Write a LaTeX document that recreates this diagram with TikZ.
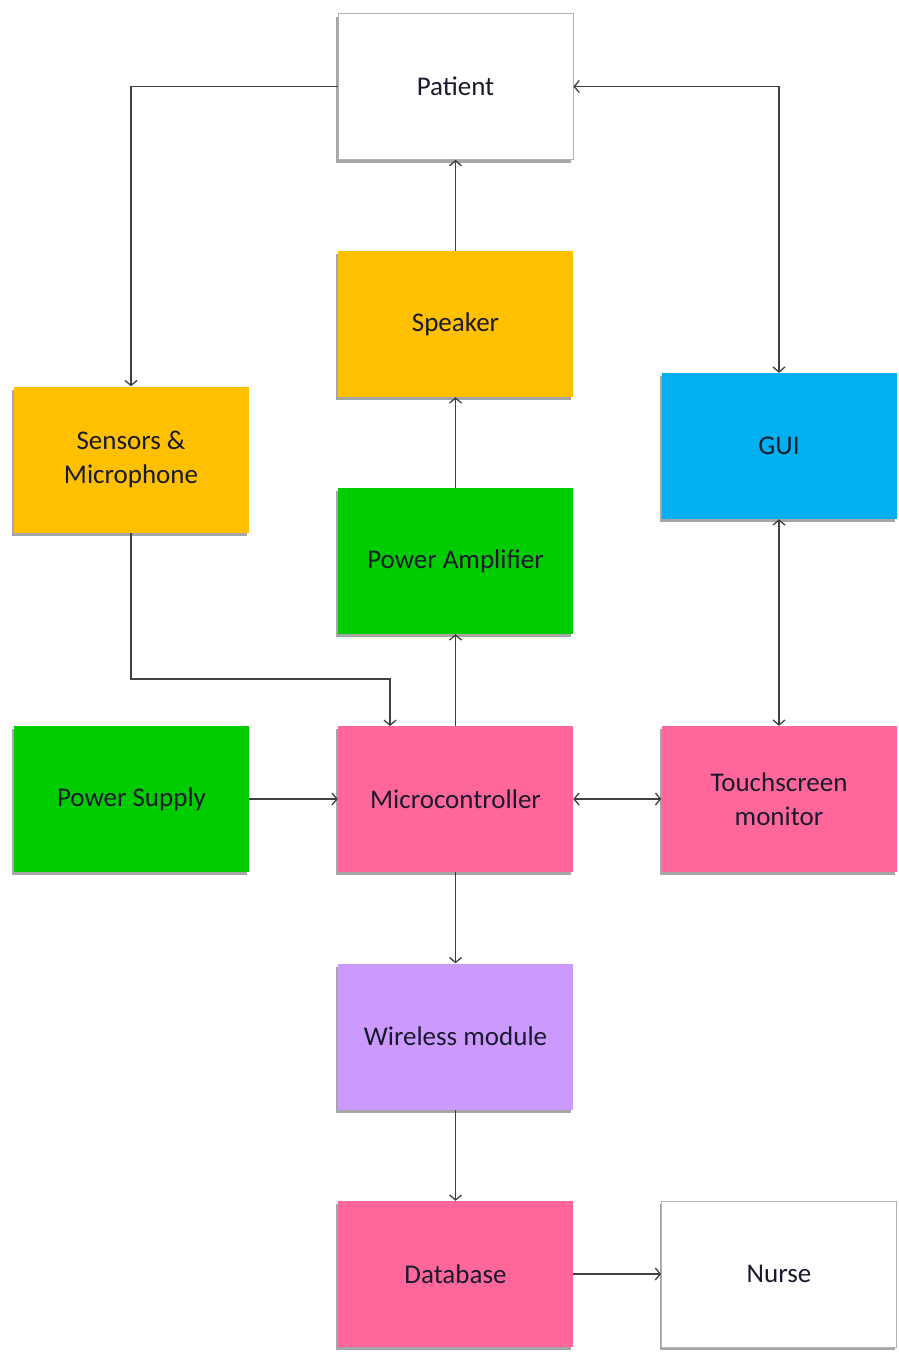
\documentclass[tikz,border=0pt]{standalone}
\usepackage{fontspec}
\setmainfont{Carlito}
\usetikzlibrary{arrows.meta,shadows,positioning}
\definecolor{cyel}{HTML}{FFC000}
\definecolor{cgrn}{HTML}{00CC00}
\definecolor{cpink}{HTML}{FF6699}
\definecolor{cblue}{HTML}{00B0F0}
\definecolor{cpurp}{HTML}{CC99FF}
\definecolor{ctext}{HTML}{1A1A2E}
\definecolor{cline}{HTML}{404040}
\tikzset{
  box/.style={rectangle, minimum width=235pt, minimum height=146pt, inner sep=2pt,
    align=center, font=\fontsize{27}{34}\selectfont, text=ctext,
    drop shadow={shadow xshift=-2pt, shadow yshift=-3pt, opacity=0.35, fill=black}},
  whitebox/.style={box, fill=white, draw=gray!60, line width=0.8pt},
  conn/.style={draw=cline, line width=1.3pt, -{Straight Barb[length=5pt,width=12pt]}},
  biconn/.style={draw=cline, line width=1.3pt, {Straight Barb[length=5pt,width=12pt]}-{Straight Barb[length=5pt,width=12pt]}}
}
\begin{document}
\begin{tikzpicture}[x=1pt,y=-1pt]
\useasboundingbox (0,0) rectangle (899,1353);
\fill[white] (0,0) rectangle (899,1353);
\node[whitebox] (patient) at (455.5,86.5) {Patient};
\node[box, fill=cyel] (speaker) at (455.5,324) {Speaker};
\node[box, fill=cgrn] (amp) at (455.5,561) {Power Amplifier};
\node[box, fill=cpink] (mcu) at (455.5,799) {Microcontroller};
\node[box, fill=cpurp] (wifi) at (455.5,1036.5) {Wireless module};
\node[box, fill=cpink] (db) at (455.5,1274) {Database};
\node[box, fill=cyel] (sens) at (131,459.5) {Sensors \&\\Microphone};
\node[box, fill=cgrn] (psu) at (131.5,799) {Power Supply};
\node[box, fill=cblue] (gui) at (779,446) {GUI};
\node[box, fill=cpink] (touch) at (779,799) {Touchscreen\\monitor};
\node[whitebox] (nurse) at (779,1274) {Nurse};

\draw[conn] (patient.west) -| (sens.north);
\draw[biconn] (patient.east) -| (gui.north);
\draw[conn] (speaker.north) -- (patient.south);
\draw[conn] (amp.north) -- (speaker.south);
\draw[conn] (mcu.north) -- (amp.south);
\coordinate (mcuin) at (390,726);
\draw[conn] (sens.south) |- (131,679) -| (mcuin);
\draw[conn] (psu.east) -- (mcu.west);
\draw[biconn] (mcu.east) -- (touch.west);
\draw[biconn] (gui.south) -- (touch.north);
\draw[conn] (mcu.south) -- (wifi.north);
\draw[conn] (wifi.south) -- (db.north);
\draw[conn] (db.east) -- (nurse.west);
\end{tikzpicture}
\end{document}
